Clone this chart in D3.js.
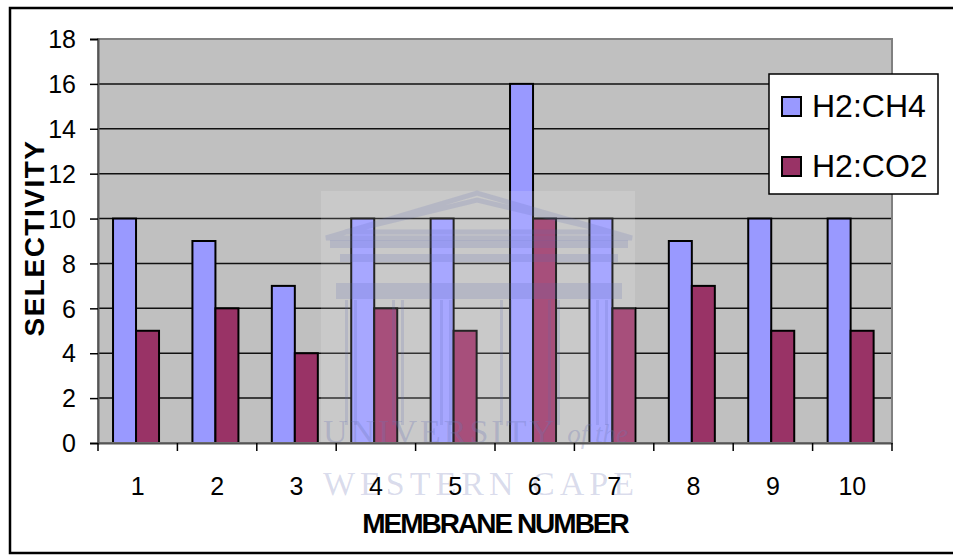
<!DOCTYPE html>
<html>
<head>
<meta charset="utf-8">
<script src="https://cdn.jsdelivr.net/npm/d3@7"></script>
<style>
  html, body { margin: 0; padding: 0; background: #fff; }
  svg { display: block; }
  text { font-family: "Liberation Sans", Arial, sans-serif; }
</style>
</head>
<body>
<script>
// Gas selectivity for each membrane
const membranes = ["1", "2", "3", "4", "5", "6", "7", "8", "9", "10"];
const seriesNames = ["H2:CH4", "H2:CO2"];
const h2ch4 = [10, 9, 7, 10, 10, 16, 10, 9, 10, 10];
const h2co2 = [5, 6, 4, 6, 5, 10, 6, 7, 5, 5];
const yTicks = [0, 2, 4, 6, 8, 10, 12, 14, 16, 18];
const colors = ["#9999FF", "#993366"];

const W = 953, H = 555;
const plot = { left: 98, top: 39, right: 892, bottom: 443 };

const svg = d3.select("body").append("svg").attr("width", W).attr("height", H);

// outer chart frame
svg.append("rect").attr("x", 10).attr("y", 8).attr("width", 960).attr("height", 545)
  .attr("fill", "#fff").attr("stroke", "#000").attr("stroke-width", 2.5);

const x0 = d3.scaleBand().domain(membranes).range([plot.left, plot.right]).paddingInner(0).paddingOuter(0);
const x1 = d3.scaleBand().domain(seriesNames).range([0, x0.bandwidth()])
  .paddingInner(0).paddingOuter(0.726).align(0.45);
const y = d3.scaleLinear().domain([0, 18]).range([plot.bottom, plot.top]);

// plot background
svg.append("rect").attr("x", plot.left).attr("y", plot.top)
  .attr("width", plot.right - plot.left).attr("height", plot.bottom - plot.top)
  .attr("fill", "#C0C0C0");

// horizontal gridlines
svg.append("g").selectAll("line").data(yTicks.filter(t => t > 0 && t < 18)).join("line")
  .attr("x1", plot.left).attr("x2", plot.right)
  .attr("y1", d => y(d)).attr("y2", d => y(d))
  .attr("stroke", "#111").attr("stroke-width", 1.5);

// bars
const rows = membranes.map((m, i) => ({ m, vals: [h2ch4[i], h2co2[i]] }));
svg.append("g").selectAll("g").data(rows).join("g")
  .attr("transform", d => `translate(${x0(d.m)},0)`)
  .selectAll("rect").data(d => d.vals.map((v, k) => ({ k, v }))).join("rect")
  .attr("x", d => x1(seriesNames[d.k]))
  .attr("width", x1.bandwidth())
  .attr("y", d => y(d.v))
  .attr("height", d => y(0) - y(d.v))
  .attr("fill", d => colors[d.k])
  .attr("stroke", "#000").attr("stroke-width", 2);

// watermark: university crest and name
const wm = svg.append("g").attr("pointer-events", "none");
wm.append("rect").attr("x", 321).attr("y", 191).attr("width", 314).attr("height", 309)
  .attr("fill", "#fff").attr("opacity", 0.14);
const wmCol = "rgba(95,105,175,0.18)";
wm.append("path").attr("d", "M326,238 L477,193 L632,238 Z M345,232 L477,200 L612,232 Z")
  .attr("fill", "none").attr("stroke", wmCol).attr("stroke-width", 5);
wm.append("rect").attr("x", 330).attr("y", 240).attr("width", 298).attr("height", 8).attr("fill", wmCol);
wm.append("rect").attr("x", 340).attr("y", 254).attr("width", 278).attr("height", 8).attr("fill", wmCol);
wm.append("rect").attr("x", 336).attr("y", 283).attr("width", 286).attr("height", 16).attr("fill", wmCol);
const colX = [345, 392, 440, 500, 548, 596];
const cols = wm.append("g").selectAll("g").data(colX).join("g");
cols.append("rect").attr("x", d => d).attr("y", 300).attr("width", 3).attr("height", 125).attr("fill", wmCol);
cols.append("rect").attr("x", d => d + 9).attr("y", 300).attr("width", 3).attr("height", 125).attr("fill", wmCol);
const wmText = "rgba(110,118,180,0.30)";
wm.append("text").attr("x", 323).attr("y", 443)
  .style("font-family", "'Liberation Serif', 'DejaVu Serif', serif").style("font-size", "34px")
  .style("fill", wmText).attr("letter-spacing", 3)
  .text("UNIVERSITY ")
  .append("tspan").style("font-style", "italic").style("font-size", "27px").attr("letter-spacing", 0).text("of the");
wm.append("text").attr("x", 323).attr("y", 495)
  .style("font-family", "'Liberation Serif', 'DejaVu Serif', serif").style("font-size", "34px")
  .style("fill", "rgba(110,118,180,0.26)").attr("letter-spacing", 5)
  .text("WESTERN CAPE");

// plot border
svg.append("rect").attr("x", plot.left).attr("y", plot.top)
  .attr("width", plot.right - plot.left).attr("height", plot.bottom - plot.top)
  .attr("fill", "none").attr("stroke", "#808080").attr("stroke-width", 2);

// y axis
const yAxis = svg.append("g").attr("transform", `translate(${plot.left},0)`)
  .call(d3.axisLeft(y).tickValues(yTicks).tickSize(8).tickPadding(14));
yAxis.select(".domain").attr("stroke", "#555").attr("stroke-width", 2);
yAxis.selectAll(".tick line").attr("stroke", "#000").attr("stroke-width", 1.5);
yAxis.selectAll(".tick text").style("font-size", "25px").style("font-family", "'Liberation Sans', Arial, sans-serif")
  .style("fill", "#000").attr("dy", "0.35em");

// x axis: ticks on category boundaries
const xAxis = svg.append("g").attr("transform", `translate(0,${plot.bottom})`)
  .call(d3.axisBottom(x0).tickSize(0).tickPadding(34));
xAxis.select(".domain").attr("stroke", "#555").attr("stroke-width", 2);
xAxis.selectAll(".tick text").style("font-size", "25px").style("font-family", "'Liberation Sans', Arial, sans-serif")
  .style("fill", "#000");
const bounds = membranes.map(m => x0(m)).concat([plot.right]);
svg.append("g").selectAll("line").data(bounds).join("line")
  .attr("x1", d => d).attr("x2", d => d).attr("y1", plot.bottom).attr("y2", plot.bottom + 8)
  .attr("stroke", "#000").attr("stroke-width", 1.5);

// axis titles
svg.append("text").attr("transform", "translate(44,238) rotate(-90)")
  .attr("text-anchor", "middle").style("font-size", "28px").style("font-weight", "bold")
  .style("fill", "#000").attr("letter-spacing", 1.5).text("SELECTIVITY");
svg.append("text").attr("x", 495).attr("y", 533)
  .attr("text-anchor", "middle").style("font-size", "28px").style("font-weight", "bold")
  .style("fill", "#000").attr("letter-spacing", -2).text("MEMBRANE NUMBER");

// legend
const lg = svg.append("g");
lg.append("rect").attr("x", 769).attr("y", 74).attr("width", 169).attr("height", 120)
  .attr("fill", "#fff").attr("stroke", "#000").attr("stroke-width", 1.5);
const items = lg.selectAll("g").data(seriesNames).join("g")
  .attr("transform", (d, i) => `translate(782,${97 + i * 60})`);
items.append("rect").attr("width", 19).attr("height", 19)
  .attr("fill", (d, i) => colors[i]).attr("stroke", "#000").attr("stroke-width", 2);
items.append("text").attr("x", 30).attr("y", 20).style("font-size", "32px").style("fill", "#000").text(d => d);
</script>
</body>
</html>
